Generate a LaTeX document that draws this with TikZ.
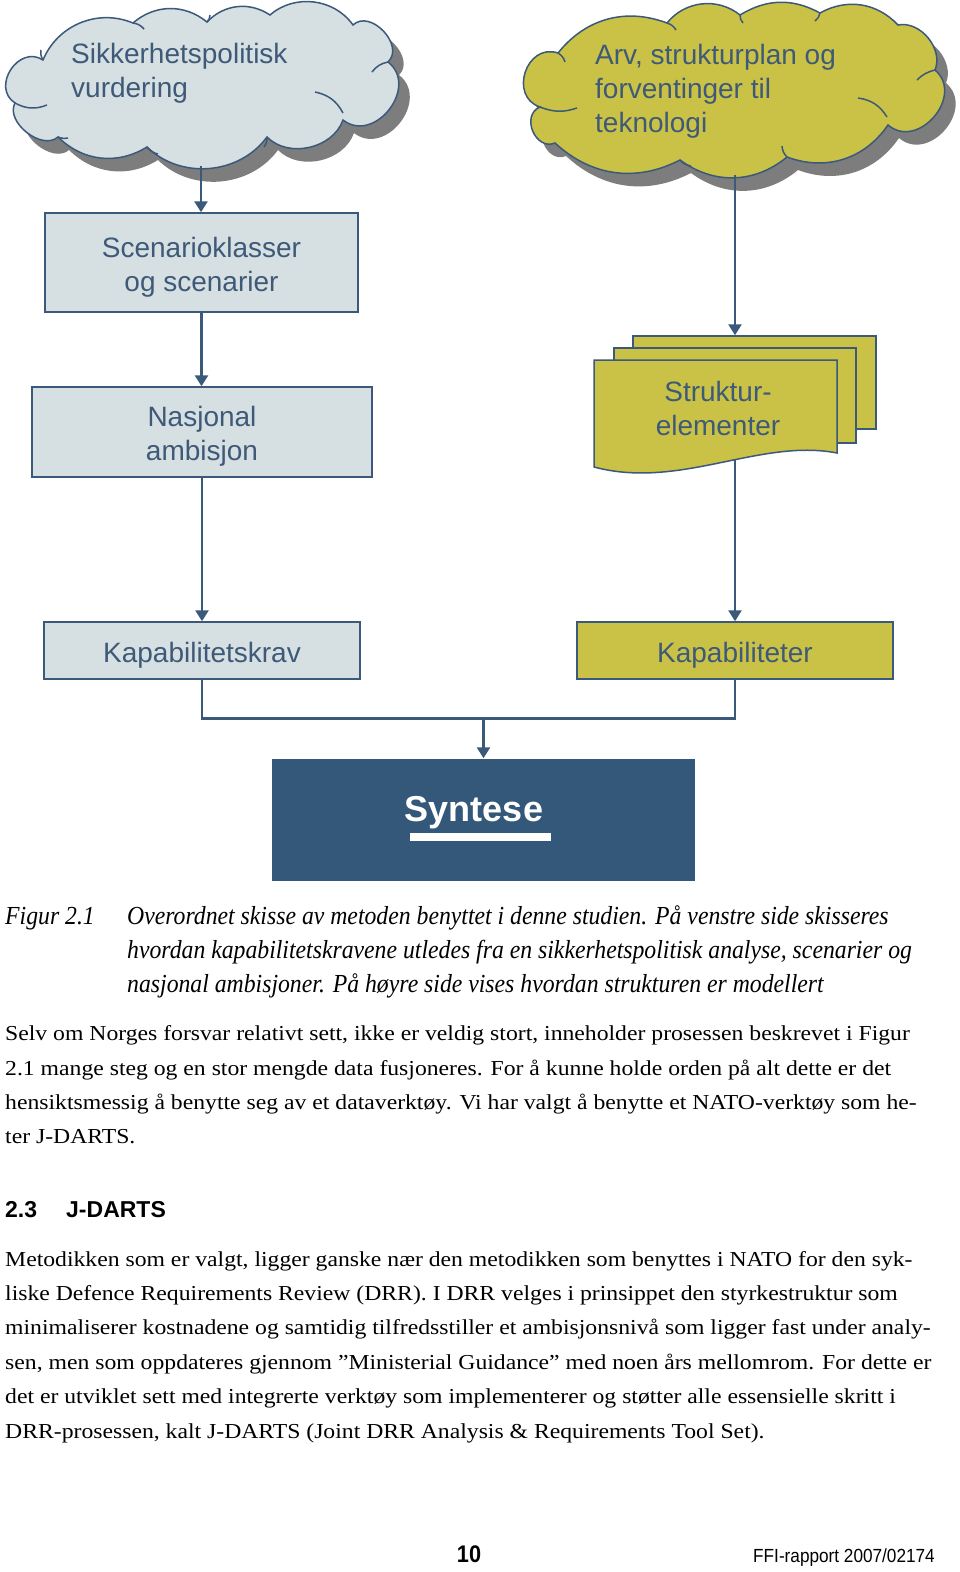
\documentclass[tikz,border=0pt]{standalone}
\usepackage{fontspec}
\setmainfont{Liberation Serif}
\newfontfamily\diafont{Liberation Sans}
\newfontfamily\bodyfont[FakeStretch=1.112]{Liberation Serif}
\newfontfamily\capfont[FakeStretch=0.9125]{Liberation Serif Italic}
\newfontfamily\footfont[FakeStretch=0.905]{Liberation Sans}
\usetikzlibrary{arrows.meta,positioning}
\definecolor{linec}{RGB}{59,89,122}
\definecolor{txtc}{RGB}{62,90,120}
\definecolor{lightf}{RGB}{214,223,226}
\definecolor{olivef}{RGB}{201,194,70}
\definecolor{synf}{RGB}{52,88,122}
\definecolor{shadc}{RGB}{125,125,125}
\newcommand{\topgap}{\rule{0pt}{29pt}}
\newcommand{\sikcloud}{(43,60) to[bend left=45] (133,23) to[bend left=40] (207,22)
  to[bend left=40] (270,15) to[bend left=48] (353,25) to[bend left=90,looseness=1.2] (388,62)
  to[bend left=90,looseness=1.4] (343,120) to[bend left=58] (267,137) to[bend left=49] (147,147)
  to[bend left=38] (58,137) to[bend left=80] (15,103) to[bend left=90,looseness=1.45] cycle}
\newcommand{\arvcloud}{(558,53) to[bend left=36] (667,23) to[bend left=45] (740,15)
  to[bend left=30] (820,13) to[bend left=38] (898,25) to[bend left=62] (935,70)
  to[bend left=90,looseness=1.4] (888,125) to[bend left=38] (787,157) to[bend left=38] (680,160)
  to[bend left=35] (555,143) to[bend left=90,looseness=1.4] (540,107) to[bend left=90,looseness=1.5] cycle}

\begin{document}
\begin{tikzpicture}[x=1pt,y=-1pt,
  box/.style={draw=linec,line width=1.5pt,fill=lightf,text=txtc,inner sep=0pt,
    font=\diafont\fontsize{28}{34}\selectfont,align=center},
  obox/.style={box,fill=olivef},
  cloudline/.style={draw=linec,line width=1.5pt},
  crease/.style={draw=linec,line width=1.5pt},
  cloudtxt/.style={text=txtc,inner sep=0pt,anchor=north west,align=left,
    font=\diafont\fontsize{28}{34}\selectfont},
  doc/.style={draw=linec,line width=1.5pt,fill=olivef},
  conn/.style={draw=linec,line width=2.6pt,-{Triangle[width=13pt,length=11pt]}},
  link/.style={draw=linec,line width=2.6pt},
  capt/.style={anchor=base west,inner sep=0pt,font=\capfont\fontsize{26}{30}\selectfont},
  body/.style={anchor=base west,inner sep=0pt,font=\bodyfont\fontsize{21.3}{25}\selectfont},
  head/.style={anchor=base west,inner sep=0pt,font=\diafont\bfseries\fontsize{23}{27}\selectfont}]
\useasboundingbox (0,0) rectangle (960,1572);
\fill[white] (0,0) rectangle (960,1572);

\fill[shadc,shift={(11,13)}] \sikcloud;
\draw[cloudline,fill=lightf] \sikcloud;
\draw[crease] (15,103) to[bend right=25] (47,105);
\draw[crease] (315,92) to[bend left=25] (343,113);
\draw[crease] (372,72) to[bend left=20] (388,62);
\draw[crease] (43,60) to[bend left=20] (41,50);
\draw[crease] (133,23) to[bend left=20] (144,29);
\draw[crease] (207,22) to[bend right=20] (210,15);
\draw[crease] (267,137) to[bend left=20] (264,147);
\draw[crease] (147,147) to[bend right=20] (158,154);
\draw[crease] (58,137) to[bend right=15] (68,138);
\node[cloudtxt] (siktxt) at (71,42.6) {Sikkerhetspolitisk\\vurdering};
\coordinate (sikbot) at (201,166);

\fill[shadc,shift={(11,13)}] \arvcloud;
\draw[cloudline,fill=olivef] \arvcloud;
\draw[crease] (540,107) to[bend right=20] (577,108);
\draw[crease] (858,98) to[bend left=25] (887,117);
\draw[crease] (917,80) to[bend left=15] (935,70);
\draw[crease] (558,53) to[bend left=20] (565,62);
\draw[crease] (667,23) to[bend left=20] (676,30);
\draw[crease] (740,15) to[bend right=20] (743,23);
\draw[crease] (820,13) to[bend left=20] (815,21);
\draw[crease] (787,157) to[bend left=20] (782,146);
\draw[crease] (680,160) to[bend right=20] (691,166);
\node[cloudtxt] (arvtxt) at (595,43.6) {Arv, strukturplan og\\forventinger til\\teknologi};
\coordinate (arvbot) at (735,175);

\node[box,minimum width=313pt,minimum height=99pt] (scen) at (201.5,262.5) {\topgap Scenarioklasser\\og scenarier};
\node[box,minimum width=340pt,minimum height=90pt] (nasj) at (202,432) {\topgap Nasjonal\\ambisjon};
\node[box,minimum width=316pt,minimum height=57pt] (kreq) at (202,650.5) {\topgap Kapabilitetskrav};
\node[obox,minimum width=316pt,minimum height=57pt] (kapab) at (735,650.5) {\topgap Kapabiliteter};

\node[doc,minimum width=243pt,minimum height=93pt,inner sep=0pt] (doc3) at (754.5,382.5) {};
\node[doc,minimum width=242pt,minimum height=95pt,inner sep=0pt] (doc2) at (735,395.5) {};
\draw[doc] (594,360) -- (837,360) -- (837,453) .. controls (760,438) and (680,490) .. (594,467) -- cycle;
\node[cloudtxt,anchor=center,align=center] (struk) at (718,408) {Struktur-\\elementer};
\coordinate (strukbot) at (735,459.5);

\node[box,draw=none,fill=synf,text=white,minimum width=423pt,minimum height=122pt,
  font=\diafont\bfseries\fontsize{36}{40}\selectfont,text height=27pt,text depth=25pt] (syn) at (483.5,820) {Syntese\hspace{19pt}};
\fill[white] (410,833.3) rectangle (550.7,840.7);

\draw[conn] (sikbot) -- (sikbot |- scen.north);
\draw[conn] (scen.south) -- (scen.south |- nasj.north);
\draw[conn] (nasj.south) -- (nasj.south |- kreq.north);
\draw[conn] (arvbot) -- (arvbot |- doc3.north);
\draw[conn] (strukbot) -- (kapab.north);
\draw[link] (kreq.south) -- ++(0,39) -| (kapab.south);
\coordinate (join) at (483.5,718);
\draw[conn] (join) -- (syn.north);

\node[capt] (fig) at (5,924) {Figur 2.1};
\node[capt] (cap1) at (127,924) {Overordnet skisse av metoden benyttet i denne studien. På venstre side skisseres};
\node[capt] (cap2) at (127,958) {hvordan kapabilitetskravene utledes fra en sikkerhetspolitisk analyse, scenarier og};
\node[capt] (cap3) at (127,992) {nasjonal ambisjoner. På høyre side vises hvordan strukturen er modellert};

\node[body] (pa1) at (5,1040.7) {Selv om Norges forsvar relativt sett, ikke er veldig stort, inneholder prosessen beskrevet i Figur};
\node[body] (pa2) at (5,1075.1) {2.1 mange steg og en stor mengde data fusjoneres. For å kunne holde orden på alt dette er det};
\node[body] (pa3) at (5,1109.5) {hensiktsmessig å benytte seg av et dataverktøy. Vi har valgt å benytte et NATO-verktøy som he-};
\node[body] (pa4) at (5,1143.9) {ter J-DARTS.};

\node[head] (secno) at (5,1217) {2.3};
\node[head] (sectit) at (66,1217) {J-DARTS};

\node[body] (pb1) at (5,1266) {Metodikken som er valgt, ligger ganske nær den metodikken som benyttes i NATO for den syk-};
\node[body] (pb2) at (5,1300.4) {liske Defence Requirements Review (DRR). I DRR velges i prinsippet den styrkestruktur som};
\node[body] (pb3) at (5,1334.8) {minimaliserer kostnadene og samtidig tilfredsstiller et ambisjonsnivå som ligger fast under analy-};
\node[body] (pb4) at (5,1369.2) {sen, men som oppdateres gjennom ”Ministerial Guidance” med noen års mellomrom. For dette er};
\node[body] (pb5) at (5,1403.6) {det er utviklet sett med integrerte verktøy som implementerer og støtter alle essensielle skritt i};
\node[body] (pb6) at (5,1438) {DRR-prosessen, kalt J-DARTS (Joint DRR Analysis \& Requirements Tool Set).};

\node[anchor=base,inner sep=0pt,font=\footfont\bfseries\fontsize{24}{28}\selectfont] (pgno) at (469,1562) {10};
\node[anchor=base west,inner sep=0pt,font=\footfont\fontsize{19}{22}\selectfont] (rapno) at (753,1562) {FFI-rapport 2007/02174};
\end{tikzpicture}
\end{document}
